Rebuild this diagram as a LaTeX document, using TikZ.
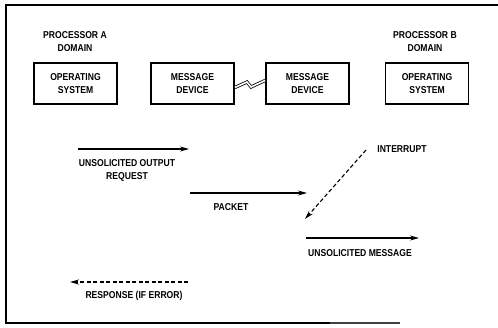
\documentclass[tikz,border=0pt]{standalone}
\usepackage{fontspec}
\setmainfont{Liberation Sans}[FakeStretch=0.86]
\usetikzlibrary{arrows.meta,positioning}
\begin{document}
\begin{tikzpicture}[x=1pt, y=-1pt,
    caja/.style={draw, line width=1.8pt, minimum width=83pt, minimum height=41pt,
      align=center, inner sep=0pt, font=\fontsize{10}{13}\selectfont\bfseries},
    etiq/.style={align=center, inner sep=0pt, font=\fontsize{10}{13}\selectfont\bfseries},
    flecha/.style={-{Stealth[length=9pt,width=5pt]}, line width=1.1pt},
    discont/.style={flecha, dash pattern=on 4pt off 2.5pt}]
    \useasboundingbox (0,0) rectangle (498,327);

    % Marco
    \draw[line width=2.2pt] (498,5) -- (6,5) -- (6,323) -- (330,323);
    \draw[line width=1.6pt, black!75] (330,323) -- (400,323);

    % Dominios
    \node[etiq] (domA) at (75,42) {PROCESSOR A\\DOMAIN};
    \node[etiq] (domB) at (425,42) {PROCESSOR B\\DOMAIN};

    % Cajas
    \node[caja] (osA)  at (75.5,83.5)  {OPERATING\\SYSTEM};
    \node[caja] (msgA) at (192.5,83.5) {MESSAGE\\DEVICE};
    \node[caja] (msgB) at (307.5,83.5) {MESSAGE\\DEVICE};
    \node[caja] (osB)  at (427,83.5)   {OPERATING\\SYSTEM};

    % Enlace entre dispositivos
    \draw[line width=0.8pt, double distance=1.6pt, line join=miter]
        ([yshift=-4pt]msgA.east) -- (247,82) -- (251,87) -- ([yshift=3pt]msgB.west);

    % Coordenadas de las flechas
    \coordinate (reqS) at (78,149);
    \coordinate (reqE) at (189,149);
    \coordinate (pktS) at (190,193);
    \coordinate (pktE) at (307,193);
    \coordinate (intS) at (366,150);
    \coordinate (intE) at (305,219);
    \coordinate (umsS) at (306,238);
    \coordinate (umsE) at (419,238);
    \coordinate (rspS) at (188,282);
    \coordinate (rspE) at (70,282);

    % Flechas
    \draw[flecha] (reqS) -- (reqE);
    \draw[flecha] (pktS) -- (pktE);
    \draw[discont] (intS) -- (intE);
    \draw[flecha] (umsS) -- (umsE);
    \draw[discont] (rspS) -- (rspE);

    % Etiquetas
    \node[etiq] (lblReq) at (127,170) {UNSOLICITED OUTPUT\\REQUEST};
    \node[etiq] (lblPkt) at (231,207) {PACKET};
    \node[etiq] (lblInt) at (402,149) {INTERRUPT};
    \node[etiq] (lblUms) at (360,253) {UNSOLICITED MESSAGE};
    \node[etiq] (lblRsp) at (134,296) {RESPONSE (IF ERROR)};
\end{tikzpicture}
\end{document}
